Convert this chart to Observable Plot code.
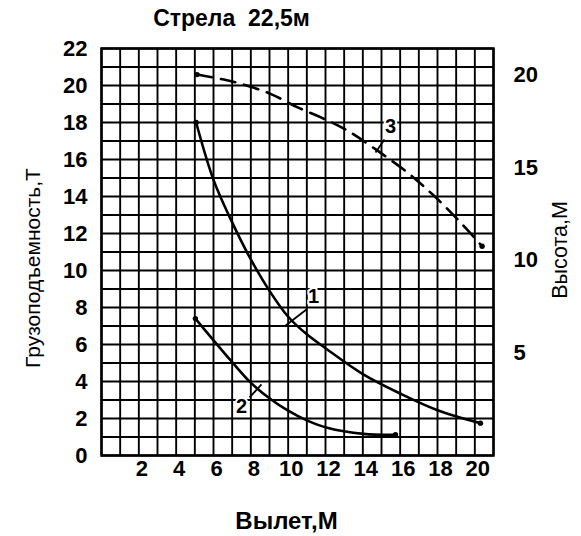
<!DOCTYPE html>
<html>
<head>
<meta charset="utf-8">
<script src="https://cdn.jsdelivr.net/npm/d3@7"></script>
<script src="https://cdn.jsdelivr.net/npm/@observablehq/plot@0.6"></script>
<style>
  html, body { margin: 0; padding: 0; background: #fff; }
  #chart svg { display: block; }
</style>
</head>
<body>
<div id="chart"></div>
<script>
// Curve 1: load capacity (T) vs reach (m)
const reach1 = [5.07, 6.0, 7.0, 8.0, 9.0, 10.0, 11.0, 12.0, 14.0, 16.0, 18.0, 20.3];
const load1  = [18.0, 14.9, 12.6, 10.6, 8.9, 7.5, 6.55, 5.8, 4.4, 3.35, 2.45, 1.75];
// Curve 2: load capacity (T) vs reach (m)
const reach2 = [5.03, 6.91, 7.98, 9.05, 9.95, 11.0, 12.09, 14.03, 15.75];
const load2  = [7.4, 5.15, 3.95, 3.05, 2.45, 1.9, 1.5, 1.17, 1.12];
// Curve 3: hook height (m, right axis) vs reach (m)
const reach3  = [5.12, 6.55, 7.62, 9.05, 10.48, 11.91, 13.16, 14.77, 16.37, 17.8, 19.05, 20.39];
const height3 = [20.04, 19.77, 19.5, 19.0, 18.28, 17.65, 17.02, 15.94, 14.76, 13.5, 12.24, 10.76];

// Axis ticks
const reachTicks  = [2, 4, 6, 8, 10, 12, 14, 16, 18, 20];
const loadTicks   = [0, 2, 4, 6, 8, 10, 12, 14, 16, 18, 20, 22];
const heightTicks = [5, 10, 15, 20];
const gridX = d3.range(0, 22);   // 0..21
const gridY = d3.range(0, 23);   // 0..22
// Height axis zero sits at this value of the load axis (same unit length)
const heightOrigin = 0.55;

// Curve labels with leader lines
const curveLabels = [
  {name: "1", x: 11.36, y: 8.59, lx1: 10.98, ly1: 7.89, lx2: 9.80, ly2: 6.97},
  {name: "2", x: 7.5,  y: 2.65, lx1: 7.93,  ly1: 3.14, lx2: 8.57, ly2: 3.84},
  {name: "3", x: 15.48, y: 17.78, lx1: 15.16, ly1: 17.08, lx2: 14.68, ly2: 16.38}
];

const c1 = reach1.map((x, i) => ({x, y: load1[i]}));
const c2 = reach2.map((x, i) => ({x, y: load2[i]}));
const c3 = reach3.map((x, i) => ({x, y: height3[i] + heightOrigin}));
const ends = [c1[0], c1[c1.length - 1], c2[0], c2[c2.length - 1], c3[0], c3[c3.length - 1]];

const chart = Plot.plot({
  width: 581,
  height: 536,
  marginLeft: 101,
  marginRight: 88,
  marginTop: 48,
  marginBottom: 81,
  style: {fontFamily: "Liberation Sans, Arial, sans-serif", background: "#fff", color: "#000"},
  x: {domain: [0, 21], axis: null},
  y: {domain: [0, 22], axis: null},
  marks: [
    Plot.ruleX(gridX, {x: d => d, stroke: "#000", strokeWidth: 1.9}),
    Plot.ruleY(gridY, {y: d => d, stroke: "#000", strokeWidth: 1.9}),
    Plot.frame({stroke: "#000", strokeWidth: 2.5}),
    Plot.line(c1, {x: "x", y: "y", curve: "catmull-rom", stroke: "#000", strokeWidth: 2.6}),
    Plot.line(c2, {x: "x", y: "y", curve: "catmull-rom", stroke: "#000", strokeWidth: 2.6}),
    Plot.line(c3, {x: "x", y: "y", curve: "catmull-rom", stroke: "#000", strokeWidth: 2.6, strokeDasharray: "15,9"}),
    Plot.dot(ends, {x: "x", y: "y", r: 2.7, fill: "#000", stroke: null}),
    Plot.link(curveLabels, {x1: "lx1", y1: "ly1", x2: "lx2", y2: "ly2", stroke: "#000", strokeWidth: 1.8}),
    Plot.text(curveLabels, {x: "x", y: "y", text: "name", fontSize: 20, fontWeight: "bold", fill: "#000", stroke: "#fff", strokeWidth: 4, paintOrder: "stroke"}),
    // tick labels
    Plot.text(loadTicks, {x: 0, y: d => d, text: d => String(d), textAnchor: "end", lineAnchor: "middle", dx: -14, fontSize: 22, fontWeight: "bold", fill: "#000"}),
    Plot.text(heightTicks, {x: 21, y: d => d + heightOrigin, text: d => String(d), textAnchor: "start", lineAnchor: "middle", dx: 20, fontSize: 22, fontWeight: "bold", fill: "#000"}),
    Plot.text(reachTicks, {x: d => d, y: 0, text: d => String(d), textAnchor: "middle", lineAnchor: "middle", dy: 13, dx: 3, fontSize: 22, fontWeight: "bold", fill: "#000"}),
    // titles
    Plot.text(["Стрела\u00a0 22,5м"], {frameAnchor: "top-left", textAnchor: "middle", lineAnchor: "middle", dx: 130, dy: -30, fontSize: 23, fontWeight: "bold", fill: "#000"}),
    Plot.text(["Вылет,М"], {frameAnchor: "bottom-left", textAnchor: "middle", lineAnchor: "middle", dx: 185, dy: 66, fontSize: 24, fontWeight: "bold", fill: "#000"}),
    Plot.text(["Грузоподъемность,Т"], {frameAnchor: "left", textAnchor: "middle", lineAnchor: "middle", dx: -68, dy: 16, rotate: -90, fontSize: 21, fill: "#000"}),
    Plot.text(["Высота,М"], {frameAnchor: "right", textAnchor: "middle", lineAnchor: "middle", dx: 67, dy: -2, rotate: -90, fontSize: 21.5, fill: "#000"})
  ]
});
document.getElementById("chart").appendChild(chart);
</script>
</body>
</html>
